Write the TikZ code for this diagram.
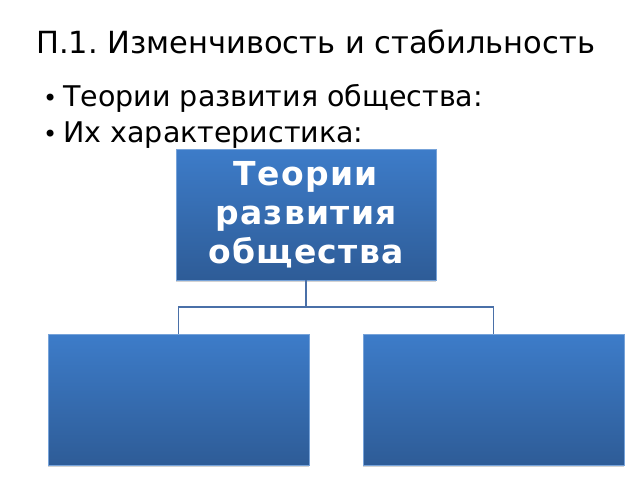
\documentclass[tikz,border=0pt]{standalone}
\usepackage{fontspec}
\setmainfont{DejaVu Sans}
\frenchspacing
\usetikzlibrary{shadows}
\definecolor{boxtop}{HTML}{3D7CC9}
\definecolor{boxbot}{HTML}{2E5C97}
\definecolor{linkc}{HTML}{4A70A8}
\tikzset{
  bluebox/.style={rectangle, inner sep=0pt, top color=boxtop, bottom color=boxbot, draw=boxtop!70!white, line width=0.4pt,
    drop shadow={opacity=0.35, shadow xshift=0pt, shadow yshift=-1.5pt}},
  link/.style={draw=linkc, line width=1.5pt},
  bul/.style={anchor=base west, inner sep=0pt, font=\fontsize{28.5}{34}\selectfont}
}
\begin{document}
\begin{tikzpicture}[x=1pt,y=-1pt]
\useasboundingbox[fill=white] (0,0) rectangle (640,480);
\node[anchor=base west, inner sep=0pt, font=\fontsize{30.5}{36}\selectfont] (title) at (36,53) {П.1. Изменчивость и стабильность};
\node[bul] (b1) at (43,106.5) {{\fontsize{24}{28}\selectfont\textbullet}\hspace{6pt}Теории развития общества:};
\node[bul] (b2) at (43,142.5) {{\fontsize{24}{28}\selectfont\textbullet}\hspace{6pt}Их характеристика:};
\node[bluebox, minimum width=260pt, minimum height=131pt, text=white, align=center,
  font=\fontsize{33}{39}\bfseries\addfontfeatures{LetterSpace=4}\selectfont] (top) at (306,214.5) {Теории\\развития\\общества};
\node[bluebox, minimum width=261pt, minimum height=131pt] (left) at (178.5,399.5) {};
\node[bluebox, minimum width=261pt, minimum height=131pt] (right) at (493.5,399.5) {};
\coordinate (j) at (306,307);
\draw[link] (top.south) -- (j);
\draw[link] (left.north) |- (j) -| (right.north);
\end{tikzpicture}
\end{document}
